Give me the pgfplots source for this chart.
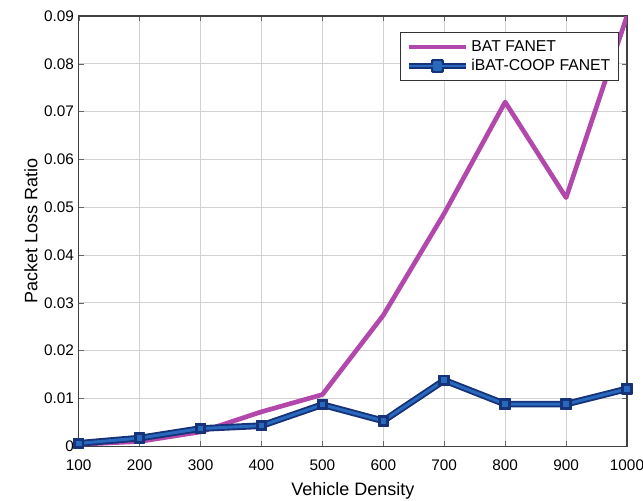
\documentclass[border=0pt]{standalone}
\usepackage{pgfplots}
\pgfplotsset{compat=1.18}
\usepackage{fontspec}
\setmainfont{Liberation Sans}
\definecolor{batc}{RGB}{178,72,172}
\definecolor{darkb}{RGB}{22,50,120}
\definecolor{midb}{RGB}{40,105,190}
\begin{document}
\begin{tikzpicture}
\begin{axis}[
  scale only axis,
  width=411pt, height=322.5pt,
  xmin=100, xmax=1000, ymin=0, ymax=0.09,
  xtick={100,200,...,1000},
  xticklabels={100,200,300,400,500,600,700,800,900,1000},
  ytick={0,0.01,...,0.09},
  yticklabel style={/pgf/number format/fixed,/pgf/number format/precision=2},
  scaled y ticks=false,
  /pgf/number format/assume math mode=true,
  tick label style={font=\fontsize{11.5}{12}\selectfont},
  xticklabel style={yshift=-6.5pt},
  label style={font=\fontsize{13.5}{14}\selectfont},
  xlabel={Vehicle Density},
  ylabel={Packet Loss Ratio},
  xlabel style={yshift=-2pt},
  ylabel style={yshift=-2pt},
  grid=major,
  grid style={gray!35, line width=0.6pt},
  axis line style={black!75, line width=0.8pt},
  tick style={black!60},
  tick align=inside,
  major tick length=4pt,
  legend style={at={(0.586,0.963)}, anchor=north west, draw=black!80, line width=0.8pt,
    font=\fontsize{11.8}{13}\selectfont, inner sep=4pt, row sep=0.5pt},
  legend cell align=left,
  legend image code/.code={\draw[mark repeat=2,mark phase=2,#1] plot coordinates {(0cm,0cm) (0.75cm,0cm) (1.5cm,0cm)};},
]
\addplot[color=batc, line width=3.5pt, line join=round] coordinates {
 (100,0.0004) (200,0.001) (300,0.003) (400,0.0072) (500,0.0108)
 (600,0.0274) (700,0.0487) (800,0.072) (900,0.052) (1000,0.09)};
\addlegendentry{BAT FANET}
\addplot[forget plot, color=darkb, line width=5pt, line join=round, mark=square*, mark size=3.8pt,
  mark options={fill=darkb, draw=darkb, line width=1pt}] coordinates {
 (100,0.0006) (200,0.0017) (300,0.0037) (400,0.0043) (500,0.0087)
 (600,0.0053) (700,0.0138) (800,0.0088) (900,0.0088) (1000,0.012)};
\addplot[color=midb, line width=2.2pt, line join=round, mark=square*, mark size=2.5pt,
  mark options={fill=midb, draw=darkb, line width=0.8pt},
  legend image code/.code={
    \draw[darkb, line width=4.5pt] (0cm,0cm) -- (1.5cm,0cm);
    \fill[darkb] (0.75cm,0cm) +(-3.8pt,-3.8pt) rectangle +(3.8pt,3.8pt);
    \draw[midb, line width=2pt] (0cm,0cm) -- (1.5cm,0cm);
    \fill[midb] (0.75cm,0cm) +(-2.5pt,-2.5pt) rectangle +(2.5pt,2.5pt);
  }] coordinates {
 (100,0.0006) (200,0.0017) (300,0.0037) (400,0.0043) (500,0.0087)
 (600,0.0053) (700,0.0138) (800,0.0088) (900,0.0088) (1000,0.012)};
\addlegendentry{iBAT-COOP FANET}
\end{axis}
\pgfresetboundingbox
\path ([xshift=-59pt,yshift=-41pt]current axis.south west) rectangle ([xshift=12pt,yshift=12pt]current axis.north east);
\end{tikzpicture}
\end{document}
